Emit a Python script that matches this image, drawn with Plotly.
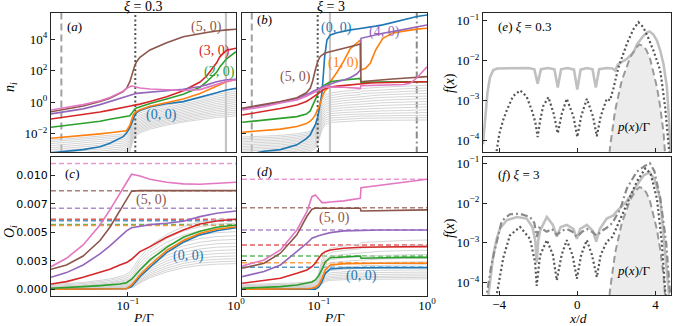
import plotly.graph_objects as go

W, H = 675, 326
SERIF = "Liberation Serif"
SANS = "DejaVu Sans"

C_BLUE, C_ORANGE, C_GREEN, C_RED = "#1f77b4", "#ff7f0e", "#2ca02c", "#d62728"
C_PURPLE, C_BROWN, C_PINK = "#9467bd", "#8c564b", "#e377c2"
C_GREY = "#cfcfcf"

# ===================== DATA =====================
# ---- panel (a): xi = 0.3, log10(n_i) versus P/Gamma
a_P = [0.0194, 0.0385, 0.0551, 0.0681, 0.0903, 0.097, 0.1042, 0.1081, 0.1119, 0.1161, 0.1202,
       0.1291, 0.16, 0.228, 0.325, 0.4645, 0.535, 0.662, 0.711, 0.818, 1.0]
a_brown = [-0.6, -0.24, 0.05, 0.25, 0.67, 0.88, 1.3, 1.7, 2.04, 2.35, 2.57, 2.85, 3.31, 3.77, 4.15, 4.36, 4.42, 4.51, 4.54, 4.58, 4.62]
a_pink = [-0.49, -0.15, 0.1, 0.3, 0.7, 0.88, 0.98, 1.03, 1.01, 0.97, 0.94, 0.9, 0.84, 0.78, 0.74, 0.8, 0.92, 1.1, 1.2, 1.32, 1.42]
a_purple = [-0.74, -0.42, -0.15, 0.05, 0.35, 0.42, 0.47, 0.49, 0.52, 0.54, 0.56, 0.58, 0.65, 0.73, 0.82, 1.0, 1.1, 1.3, 1.35, 1.42, 1.45]
a_red = [-1.06, -0.8, -0.62, -0.5, -0.3, -0.26, -0.23, -0.22, -0.2, -0.18, -0.16, -0.12, 0.05, 0.35, 0.73, 1.28, 1.66, 2.5, 2.89, 3.3, 3.42]
a_green = [-1.58, -1.35, -1.2, -1.08, -0.92, -0.88, -0.85, -0.72, -0.55, -0.42, -0.36, -0.28, -0.08, 0.2, 0.5, 0.95, 1.3, 1.9, 2.25, 2.75, 3.2]
a_orange = [-2.28, -2.12, -2.0, -1.93, -1.86, -1.8, -1.45, -1.12, -0.8, -0.65, -0.58, -0.48, -0.25, 0.0, 0.21, 0.55, 0.75, 1.0, 1.1, 1.3, 1.45]
a_blue = [-3.2, -3.0, -2.82, -2.6, -2.18, -1.95, -1.6, -1.33, -1.0, -0.8, -0.66, -0.52, -0.3, -0.1, 0.04, 0.3, 0.42, 0.6, 0.66, 0.78, 0.88]

a_grey_P = [0.0194, 0.0385, 0.0681, 0.0903, 0.097, 0.1042, 0.1119, 0.1202, 0.1291, 0.16, 0.228, 0.325, 0.4645, 0.662, 1.0]
a_grey = [
    [-2.40, -2.25, -2.12, -2.02, -1.90, -1.55, -1.05, -0.80, -0.68, -0.45, -0.20, 0.00, 0.25, 0.50, 0.70],
    [-2.50, -2.35, -2.22, -2.12, -2.00, -1.70, -1.20, -0.92, -0.80, -0.58, -0.32, -0.12, 0.12, 0.38, 0.58],
    [-2.62, -2.46, -2.33, -2.23, -2.12, -1.85, -1.32, -1.03, -0.90, -0.68, -0.42, -0.22, 0.02, 0.26, 0.46],
    [-2.75, -2.58, -2.45, -2.35, -2.24, -1.98, -1.45, -1.14, -1.00, -0.78, -0.52, -0.32, -0.08, 0.15, 0.34],
    [-2.88, -2.70, -2.57, -2.47, -2.36, -2.10, -1.57, -1.25, -1.10, -0.88, -0.62, -0.42, -0.19, 0.04, 0.22],
    [-3.00, -2.82, -2.69, -2.59, -2.48, -2.22, -1.68, -1.35, -1.20, -0.98, -0.72, -0.52, -0.30, -0.08, 0.10],
    [-3.12, -2.94, -2.81, -2.71, -2.60, -2.34, -1.78, -1.45, -1.30, -1.07, -0.82, -0.62, -0.40, -0.19, -0.02],
    [-3.25, -3.06, -2.93, -2.83, -2.72, -2.45, -1.88, -1.55, -1.40, -1.16, -0.91, -0.71, -0.50, -0.30, -0.14],
    [-3.38, -3.18, -3.05, -2.95, -2.84, -2.56, -1.97, -1.64, -1.49, -1.25, -1.00, -0.80, -0.60, -0.41, -0.26],
    [-3.50, -3.30, -3.17, -3.07, -2.96, -2.67, -2.06, -1.73, -1.58, -1.34, -1.09, -0.89, -0.70, -0.52, -0.38],
    [-3.62, -3.42, -3.29, -3.19, -3.08, -2.78, -2.15, -1.82, -1.67, -1.43, -1.18, -0.98, -0.80, -0.63, -0.50],
    [-3.75, -3.55, -3.41, -3.31, -3.20, -2.89, -2.24, -1.91, -1.76, -1.52, -1.27, -1.07, -0.90, -0.74, -0.62],
    [-3.88, -3.68, -3.53, -3.43, -3.32, -3.00, -2.33, -2.00, -1.85, -1.61, -1.36, -1.16, -1.00, -0.85, -0.74],
    [-4.00, -3.80, -3.65, -3.55, -3.44, -3.11, -2.42, -2.09, -1.94, -1.70, -1.45, -1.25, -1.10, -0.96, -0.86],
]

# ---- panel (b): xi = 3, log10(n_i) versus P/Gamma
b_P = [0.0195, 0.031, 0.044, 0.0625, 0.0765, 0.083, 0.0875, 0.0925, 0.0975, 0.1028, 0.1067, 0.110, 0.113,
       0.1186, 0.1274, 0.1469, 0.1694, 0.195, 0.2249, 0.2415, 0.245, 0.27, 0.2985, 0.335, 0.39, 0.48,
       0.608, 0.70, 0.807, 1.0]
b_blue = [-3.4, -3.1, -3.0, -2.7, -2.3, -2.07, -1.75, -1.44, -0.95, -0.07, 0.6, 1.8, 2.9, 3.94, 4.26, 4.4, 4.51, 4.58,
          4.64, 4.68, 4.69, 4.72, 4.76, 4.82, 4.9, 5.05, 5.25, 5.35, 5.43, 5.52]
b_orange = [-1.9, -1.8, -1.7, -1.54, -1.35, -1.2, -1.05, -0.8, -0.45, -0.1, 0.3, 0.55, 0.7, 0.85, 1.3, 1.9, 2.6, 3.4,
            3.8, 3.94, 2.04, 2.15, 2.46, 3.31, 4.05, 4.37, 4.5, 4.57, 4.63, 4.68]
b_brown = [-0.38, -0.15, 0.05, 0.29, 0.6, 0.88, 1.35, 2.04, 2.6, 2.9, 3.0, 3.05, 3.1, 3.15, 3.2, 3.3, 3.4, 3.5, 3.62,
           3.7, 1.3, 1.33, 1.36, 1.39, 1.42, 1.47, 1.52, 1.56, 1.59, 1.62]
b_purple = [-0.42, -0.2, 0.0, 0.24, 0.45, 0.58, 0.68, 0.76, 0.84, 0.92, 0.97, 1.0, 1.03, 1.07, 1.15, 1.3, 1.41, 1.55,
            1.8, 2.04, 4.05, 4.12, 4.2, 4.28, 4.37, 4.47, 4.6, 4.7, 4.8, 4.89]
b_pink = [-0.49, -0.28, -0.05, 0.14, 0.38, 0.5, 0.6, 0.68, 0.75, 0.82, 0.88, 0.92, 0.95, 0.96, 0.97, 0.96, 0.95, 0.92,
          0.9, 0.88, 1.05, 1.06, 1.07, 1.08, 1.09, 1.1, 1.12, 1.2, 1.55, 2.25]
b_red = [-0.81, -0.6, -0.4, -0.17, 0.05, 0.2, 0.3, 0.4, 0.5, 0.62, 0.7, 0.78, 0.84, 0.9, 0.96, 1.02, 1.06, 1.1, 1.15,
         1.2, 1.2, 1.21, 1.22, 1.23, 1.24, 1.26, 1.27, 1.28, 1.29, 1.3]
b_green = [-1.27, -1.12, -1.02, -0.91, -0.75, -0.55, -0.2, 0.2, 0.55, 0.85, 0.99, 1.05, 1.1, 1.18, 1.3, 1.36, 1.41,
           1.45, 1.49, 1.51, 1.26, 1.27, 1.27, 1.28, 1.28, 1.29, 1.29, 1.3, 1.3, 1.3]

b_grey_P = [0.0195, 0.044, 0.0625, 0.083, 0.0925, 0.0993, 0.1067, 0.1146, 0.1274, 0.1694, 0.2415, 0.245, 0.37, 0.608, 1.0]
b_grey = [
    [-2.20, -2.10, -2.00, -1.85, -1.40, -0.50, 0.20, 0.45, 0.58, 0.70, 0.80, 0.86, 0.95, 1.02, 1.08],
    [-2.30, -2.20, -2.10, -1.95, -1.52, -0.65, 0.05, 0.30, 0.42, 0.55, 0.64, 0.70, 0.78, 0.85, 0.90],
    [-2.40, -2.30, -2.20, -2.05, -1.63, -0.80, -0.10, 0.15, 0.27, 0.40, 0.48, 0.54, 0.62, 0.68, 0.73],
    [-2.50, -2.40, -2.30, -2.15, -1.75, -0.95, -0.25, 0.00, 0.12, 0.25, 0.33, 0.38, 0.46, 0.52, 0.56],
    [-2.60, -2.50, -2.40, -2.25, -1.87, -1.10, -0.40, -0.14, -0.02, 0.10, 0.18, 0.22, 0.30, 0.35, 0.39],
    [-2.70, -2.60, -2.50, -2.35, -1.98, -1.25, -0.55, -0.28, -0.16, -0.05, 0.03, 0.06, 0.13, 0.18, 0.22],
    [-2.80, -2.70, -2.60, -2.45, -2.10, -1.40, -0.70, -0.42, -0.30, -0.20, -0.12, -0.10, -0.04, 0.01, 0.05],
    [-2.90, -2.80, -2.70, -2.55, -2.21, -1.55, -0.85, -0.56, -0.44, -0.35, -0.28, -0.26, -0.21, -0.16, -0.12],
    [-3.00, -2.90, -2.80, -2.65, -2.33, -1.70, -1.00, -0.70, -0.58, -0.50, -0.43, -0.42, -0.38, -0.34, -0.30],
    [-3.10, -3.00, -2.90, -2.75, -2.45, -1.85, -1.15, -0.84, -0.72, -0.65, -0.59, -0.58, -0.55, -0.52, -0.48],
    [-3.20, -3.10, -3.00, -2.85, -2.57, -2.00, -1.30, -0.98, -0.86, -0.79, -0.74, -0.73, -0.71, -0.68, -0.65],
    [-3.30, -3.20, -3.10, -2.95, -2.68, -2.15, -1.45, -1.12, -1.00, -0.93, -0.89, -0.88, -0.86, -0.84, -0.82],
    [-3.40, -3.30, -3.20, -3.05, -2.80, -2.30, -1.60, -1.26, -1.14, -1.07, -1.03, -1.02, -1.00, -0.99, -0.97],
    [-3.50, -3.40, -3.30, -3.15, -2.92, -2.45, -1.75, -1.40, -1.28, -1.21, -1.17, -1.16, -1.15, -1.14, -1.12],
]

# vertical markers (P/Gamma values used in panels e, f)
a_vline_dashed, a_vline_dotted, a_vline_solid = 0.0242, 0.117, 0.807
b_vline_dashed, b_vline_dotted, b_vline_solid, b_vline_dashdot = 0.0239, 0.0974, 0.1265, 0.804

# ---- panel (c): xi = 0.3, O_i versus P/Gamma
c_P = [0.0194, 0.027, 0.0385, 0.0551, 0.0681, 0.0841, 0.097, 0.1081, 0.1291, 0.16, 0.228, 0.325, 0.4645, 0.662, 1.0]
c_pink = [0.00198, 0.00272, 0.00389, 0.00564, 0.00696, 0.00842, 0.00944, 0.01009, 0.00994, 0.00965, 0.00939, 0.00924, 0.00921, 0.0093, 0.00939]
c_brown = [0.00175, 0.00213, 0.00292, 0.00427, 0.00544, 0.00687, 0.00789, 0.0086, 0.00865, 0.00865, 0.00865, 0.00865, 0.00865, 0.00865, 0.00865]
c_purple = [0.00105, 0.00146, 0.00213, 0.0031, 0.0038, 0.00462, 0.00512, 0.0054, 0.00555, 0.00567, 0.00579, 0.00596, 0.00637, 0.00667, 0.00687]
c_red = [0.00046, 0.00067, 0.00105, 0.00146, 0.00175, 0.00213, 0.00234, 0.00263, 0.0033, 0.00374, 0.00456, 0.0052, 0.00573, 0.00599, 0.00614]
c_green = [0.00009, 0.00014, 0.00023, 0.00032, 0.00038, 0.00046, 0.00058, 0.00088, 0.00169, 0.00257, 0.00368, 0.00456, 0.00509, 0.00544, 0.00564]
c_orange = [0.0, 0.0, 0.00001, 0.00001, 0.00002, 0.00003, 0.00005, 0.00038, 0.00125, 0.00213, 0.00339, 0.00427, 0.00491, 0.00526, 0.00549]
c_blue = [0.0, 0.0, 0.0, 0.00001, 0.00001, 0.00002, 0.00004, 0.00023, 0.00111, 0.00193, 0.00321, 0.00412, 0.00477, 0.00514, 0.0054]
c_limits = {"pink": 0.01102, "brown": 0.00865, "purple": 0.0071, "red": 0.00614,
            "blue": 0.0060, "green": 0.00567, "orange": 0.0056}

c_grey_P = [0.0194, 0.0385, 0.0681, 0.0903, 0.1042, 0.1119, 0.1291, 0.16, 0.228, 0.325, 0.4645, 0.662, 1.0]
c_grey = [
    [0.00040, 0.00060, 0.00090, 0.00120, 0.00150, 0.00190, 0.00280, 0.00380, 0.00480, 0.00550, 0.00590, 0.00610, 0.00620],
    [0.00032, 0.00050, 0.00078, 0.00105, 0.00130, 0.00165, 0.00255, 0.00350, 0.00445, 0.00510, 0.00550, 0.00570, 0.00580],
    [0.00025, 0.00040, 0.00065, 0.00090, 0.00112, 0.00142, 0.00230, 0.00322, 0.00412, 0.00475, 0.00512, 0.00532, 0.00542],
    [0.00020, 0.00032, 0.00054, 0.00076, 0.00095, 0.00122, 0.00205, 0.00295, 0.00382, 0.00442, 0.00478, 0.00496, 0.00505],
    [0.00015, 0.00025, 0.00045, 0.00064, 0.00080, 0.00105, 0.00182, 0.00268, 0.00352, 0.00410, 0.00445, 0.00462, 0.00470],
    [0.00011, 0.00019, 0.00036, 0.00053, 0.00067, 0.00090, 0.00162, 0.00243, 0.00324, 0.00380, 0.00413, 0.00430, 0.00437],
    [0.00008, 0.00014, 0.00029, 0.00044, 0.00056, 0.00077, 0.00144, 0.00220, 0.00297, 0.00351, 0.00383, 0.00399, 0.00405],
    [0.00006, 0.00010, 0.00023, 0.00036, 0.00046, 0.00065, 0.00127, 0.00198, 0.00272, 0.00323, 0.00354, 0.00369, 0.00375],
    [0.00004, 0.00007, 0.00018, 0.00029, 0.00038, 0.00055, 0.00112, 0.00178, 0.00248, 0.00297, 0.00326, 0.00340, 0.00346],
    [0.00003, 0.00005, 0.00014, 0.00023, 0.00031, 0.00046, 0.00098, 0.00160, 0.00226, 0.00272, 0.00300, 0.00313, 0.00318],
    [0.00002, 0.00004, 0.00011, 0.00018, 0.00025, 0.00038, 0.00086, 0.00143, 0.00205, 0.00249, 0.00275, 0.00287, 0.00292],
    [0.00001, 0.00003, 0.00008, 0.00014, 0.00020, 0.00031, 0.00075, 0.00128, 0.00186, 0.00227, 0.00252, 0.00263, 0.00268],
    [0.00001, 0.00002, 0.00006, 0.00011, 0.00016, 0.00025, 0.00065, 0.00114, 0.00168, 0.00207, 0.00230, 0.00241, 0.00246],
    [0.00000, 0.00001, 0.00004, 0.00008, 0.00012, 0.00020, 0.00056, 0.00101, 0.00152, 0.00189, 0.00210, 0.00220, 0.00225],
]

# ---- panel (d): xi = 3, O_i versus P/Gamma
d_P = [0.0195, 0.031, 0.044, 0.0625, 0.0774, 0.0861, 0.0925, 0.0993, 0.1067, 0.1146, 0.1274, 0.1694, 0.2415, 0.245, 0.37, 0.608, 1.0]
d_pink = [0.00204, 0.00257, 0.00345, 0.0052, 0.00681, 0.00812, 0.00827, 0.00789, 0.0076, 0.0076, 0.00766, 0.00775, 0.00798, 0.00891, 0.00915, 0.00939, 0.00965]
d_brown = [0.00184, 0.00228, 0.00316, 0.00477, 0.0064, 0.00702, 0.0071, 0.0071, 0.0071, 0.0071, 0.0071, 0.0071, 0.0071, 0.00687, 0.0069, 0.00693, 0.00696]
d_purple = [0.00111, 0.00155, 0.00213, 0.0033, 0.00404, 0.00448, 0.00462, 0.0047, 0.00479, 0.00488, 0.00497, 0.00512, 0.00517, 0.00517, 0.0052, 0.0052, 0.0052]
d_red = [0.00053, 0.00076, 0.00096, 0.0014, 0.00169, 0.00198, 0.00228, 0.00272, 0.0031, 0.0033, 0.00345, 0.0036, 0.00368, 0.00368, 0.00371, 0.00374, 0.00374]
d_green = [0.00009, 0.00018, 0.00023, 0.00038, 0.00053, 0.00064, 0.00082, 0.00117, 0.00175, 0.00242, 0.00277, 0.00286, 0.00292, 0.00272, 0.00277, 0.0028, 0.0028]
d_orange = [0.0, 0.0, 0.00001, 0.00001, 0.00005, 0.00009, 0.00018, 0.00038, 0.00096, 0.00169, 0.00213, 0.00225, 0.00228, 0.00228, 0.00228, 0.00228, 0.00228]
d_blue = [0.0, 0.0, 0.0, 0.0, 0.00001, 0.00001, 0.00001, 0.00018, 0.00067, 0.0014, 0.00178, 0.00187, 0.0019, 0.0019, 0.0019, 0.0019, 0.0019]
d_limits = {"pink": 0.00965, "brown": 0.00716, "purple": 0.0052, "red": 0.00389,
            "green": 0.00292, "orange": 0.00233, "blue": 0.00193}

d_grey_P = [0.0195, 0.044, 0.0625, 0.083, 0.0925, 0.0993, 0.1067, 0.1146, 0.1274, 0.1694, 0.2415, 0.245, 0.37, 0.608, 1.0]
d_grey = [
    [0.00040, 0.00048, 0.00056, 0.00066, 0.00080, 0.00140, 0.00260, 0.00330, 0.00360, 0.00380, 0.00395, 0.00410, 0.00420, 0.00428, 0.00432],
    [0.00033, 0.00040, 0.00047, 0.00056, 0.00068, 0.00122, 0.00232, 0.00296, 0.00323, 0.00341, 0.00354, 0.00362, 0.00372, 0.00379, 0.00383],
    [0.00027, 0.00033, 0.00039, 0.00047, 0.00058, 0.00106, 0.00206, 0.00265, 0.00290, 0.00306, 0.00318, 0.00325, 0.00333, 0.00339, 0.00343],
    [0.00022, 0.00027, 0.00032, 0.00039, 0.00049, 0.00092, 0.00183, 0.00237, 0.00260, 0.00275, 0.00285, 0.00290, 0.00297, 0.00302, 0.00305],
    [0.00018, 0.00022, 0.00026, 0.00032, 0.00041, 0.00080, 0.00162, 0.00211, 0.00232, 0.00246, 0.00255, 0.00259, 0.00265, 0.00269, 0.00272],
    [0.00014, 0.00017, 0.00021, 0.00026, 0.00034, 0.00069, 0.00143, 0.00188, 0.00207, 0.00220, 0.00228, 0.00231, 0.00236, 0.00240, 0.00242],
    [0.00011, 0.00013, 0.00016, 0.00021, 0.00028, 0.00059, 0.00126, 0.00167, 0.00184, 0.00196, 0.00203, 0.00206, 0.00210, 0.00213, 0.00215],
    [0.00008, 0.00010, 0.00013, 0.00017, 0.00023, 0.00050, 0.00111, 0.00148, 0.00164, 0.00175, 0.00181, 0.00183, 0.00187, 0.00190, 0.00192],
    [0.00006, 0.00008, 0.00010, 0.00013, 0.00018, 0.00042, 0.00097, 0.00131, 0.00145, 0.00155, 0.00161, 0.00163, 0.00166, 0.00168, 0.00170],
    [0.00004, 0.00006, 0.00007, 0.00010, 0.00014, 0.00035, 0.00085, 0.00116, 0.00129, 0.00138, 0.00143, 0.00145, 0.00147, 0.00149, 0.00151],
    [0.00003, 0.00004, 0.00005, 0.00008, 0.00011, 0.00029, 0.00074, 0.00102, 0.00114, 0.00122, 0.00127, 0.00128, 0.00130, 0.00132, 0.00134],
    [0.00002, 0.00003, 0.00004, 0.00006, 0.00008, 0.00024, 0.00064, 0.00090, 0.00101, 0.00108, 0.00112, 0.00113, 0.00115, 0.00117, 0.00118],
    [0.00001, 0.00002, 0.00003, 0.00004, 0.00006, 0.00019, 0.00055, 0.00079, 0.00089, 0.00095, 0.00099, 0.00100, 0.00102, 0.00103, 0.00104],
    [0.00000, 0.00001, 0.00002, 0.00003, 0.00004, 0.00015, 0.00047, 0.00069, 0.00078, 0.00084, 0.00087, 0.00088, 0.00089, 0.00090, 0.00091],
]
P_span = [0.0194, 1.0]

# ---- panels (e), (f): log10 f(x) versus x/d
p_x = [1.6, 1.68, 1.94, 2.28, 2.71, 3.0, 3.18, 3.38, 3.55, 3.73, 4.08, 4.25, 4.42, 4.52]
p_log = [-4.6, -4.17, -3.25, -2.5, -1.92, -1.68, -1.6, -1.63, -1.75, -1.96, -2.67, -3.17, -3.83, -4.5]

e_solid_x = [-4.83, -4.7, -4.6, -4.47, -4.3, -4.1, -3.5, -2.5, -2.2, -2.03, -1.86, -1.5, -1.17, -1.0, -0.83, -0.5,
             -0.17, 0.0, 0.17, 0.5, 0.78, 0.95, 1.12, 1.5, 1.8, 1.94, 2.08, 2.37, 2.54, 2.88, 3.05, 3.39, 3.56, 3.7,
             3.9, 4.08, 4.25, 4.42, 4.59, 4.7, 4.8]
e_solid_log = [-4.1, -3.3, -2.8, -2.42, -2.24, -2.2, -2.19, -2.19, -2.22, -2.58, -2.22, -2.19, -2.22, -2.68, -2.22,
               -2.19, -2.23, -2.73, -2.23, -2.19, -2.22, -2.68, -2.22, -2.19, -2.2, -2.25, -2.1, -2.02, -1.96, -1.8,
               -1.6, -1.38, -1.3, -1.27, -1.35, -1.5, -1.75, -2.1, -2.67, -3.5, -4.5]
e_dot_x = [-4.2, -4.0, -3.8, -3.61, -3.3, -2.93, -2.6, -2.33, -2.15, -2.03, -1.9, -1.75, -1.48, -1.2, -1.0, -0.8,
           -0.54, -0.2, 0.0, 0.2, 0.49, 0.8, 1.0, 1.2, 1.51, 1.68, 1.85, 2.11, 2.54, 2.88, 3.13, 3.39, 3.65, 3.9,
           4.25, 4.5, 4.67, 4.75]
e_dot_log = [-4.5, -3.85, -3.5, -3.25, -2.9, -2.75, -2.9, -3.25, -3.55, -3.92, -3.5, -3.15, -2.92, -3.35, -3.83,
             -3.35, -2.96, -3.4, -3.92, -3.4, -2.96, -3.4, -3.9, -3.4, -2.96, -3.0, -2.7, -2.17, -1.58, -1.21, -1.04,
             -1.17, -1.45, -1.75, -2.25, -3.17, -4.08, -4.5]

f_solid_x = [-4.6, -4.45, -4.3, -4.13, -3.96, -3.61, -3.1, -2.59, -2.3, -2.15, -2.08, -2.0, -1.91, -1.56, -1.25,
             -1.05, -0.85, -0.54, -0.2, -0.02, 0.15, 0.49, 0.8, 0.97, 1.15, 1.51, 1.85, 2.03, 2.54, 3.05, 3.4, 3.7,
             3.95, 4.25, 4.5, 4.67, 4.75]
f_solid_log = [-4.5, -3.9, -3.3, -2.9, -2.64, -2.43, -2.35, -2.39, -2.6, -2.95, -3.5, -2.95, -2.7, -2.35, -2.55,
               -2.84, -2.6, -2.55, -2.65, -2.9, -2.65, -2.55, -2.7, -2.97, -2.65, -2.39, -2.31, -2.2, -1.95, -1.55,
               -1.3, -1.23, -1.4, -1.89, -3.15, -4.2, -4.6]
f_dashdot_x = [-4.7, -4.56, -4.4, -4.21, -3.87, -3.45, -2.93, -2.42, -2.2, -2.08, -1.95, -1.8, -1.56, -1.3, -1.05,
               -0.8, -0.54, -0.25, -0.02, 0.25, 0.49, 0.75, 1.0, 1.25, 1.51, 1.8, 2.03, 2.2, 2.54, 3.05, 3.48, 3.72,
               3.95, 4.25, 4.55, 4.72, 4.8]
f_dashdot_log = [-4.5, -4.0, -3.55, -3.15, -2.45, -2.28, -2.27, -2.35, -2.5, -2.85, -2.62, -2.65, -2.72, -2.65,
                 -2.8, -2.7, -2.65, -2.72, -2.85, -2.72, -2.65, -2.72, -2.82, -2.7, -2.62, -2.5, -2.31, -2.15, -1.63,
                 -1.21, -1.06, -1.0, -1.2, -1.89, -2.98, -4.16, -4.6]
f_dot_x = [-4.2, -4.13, -3.79, -3.45, -2.93, -2.42, -2.16, -2.08, -1.91, -1.56, -1.25, -1.05, -0.8, -0.54, -0.25,
           -0.02, 0.2, 0.49, 0.75, 1.0, 1.2, 1.51, 1.8, 2.03, 2.54, 3.05, 3.48, 3.75, 4.08, 4.33, 4.5, 4.6]
f_dot_log = [-4.6, -4.31, -3.37, -2.81, -2.6, -2.9, -3.49, -4.08, -3.32, -2.93, -3.3, -3.94, -3.3, -2.93, -3.3,
             -3.9, -3.3, -2.93, -3.3, -3.86, -3.3, -2.97, -2.85, -2.6, -2.0, -1.46, -1.13, -1.25, -1.89, -2.98, -4.2,
             -4.6]

# ===================== FIGURE =====================
fig = go.Figure()


def pw(vals):
    return [10 ** v for v in vals]


def axn(n):
    return ("x" if n == 1 else "x%d" % n), ("y" if n == 1 else "y%d" % n)


def line(n, x, y, color, width=1.6, dash=None, opacity=1.0, fill=None, fillcolor=None):
    xa, ya = axn(n)
    fig.add_trace(go.Scatter(x=x, y=y, mode="lines", xaxis=xa, yaxis=ya,
                             line=dict(color=color, width=width, dash=dash), opacity=opacity,
                             fill=fill, fillcolor=fillcolor, hoverinfo="skip", showlegend=False))


VY = [1e-8, 1e8]
DASHED, DOTTED, DASHDOT = "7px,4px", "2px,2.5px", "7px,3px,2px,3px"

# (a)
line(1, [a_vline_dashed] * 2, VY, "#a0a0a0", 2, DASHED)
line(1, [a_vline_solid] * 2, VY, "#c4c4c4", 2.2)
for g in a_grey:
    line(1, a_grey_P, pw(g), C_GREY, 0.9)
line(1, [a_vline_dotted] * 2, VY, "#555555", 2, DOTTED)
for vals, col in [(a_blue, C_BLUE), (a_orange, C_ORANGE), (a_green, C_GREEN), (a_red, C_RED),
                  (a_purple, C_PURPLE), (a_brown, C_BROWN), (a_pink, C_PINK)]:
    line(1, a_P, pw(vals), col)

# (b)
line(2, [b_vline_dashed] * 2, VY, "#a0a0a0", 2, DASHED)
line(2, [b_vline_solid] * 2, VY, "#c4c4c4", 2.2)
line(2, [b_vline_dashdot] * 2, VY, "#8a8a8a", 2, DASHDOT)
for g in b_grey:
    line(2, b_grey_P, pw(g), C_GREY, 0.9)
line(2, [b_vline_dotted] * 2, VY, "#555555", 2, DOTTED)
for vals, col in [(b_blue, C_BLUE), (b_orange, C_ORANGE), (b_green, C_GREEN), (b_red, C_RED),
                  (b_purple, C_PURPLE), (b_brown, C_BROWN), (b_pink, C_PINK)]:
    line(2, b_P, pw(vals), col)

# (c)
cols = {"pink": C_PINK, "brown": C_BROWN, "purple": C_PURPLE, "red": C_RED,
        "blue": C_BLUE, "green": C_GREEN, "orange": C_ORANGE}
for k, v in c_limits.items():
    line(3, P_span, [v, v], cols[k], 1.5, "5px,3px", 0.75)
for g in c_grey:
    line(3, c_grey_P, g, C_GREY, 0.9)
for vals, col in [(c_blue, C_BLUE), (c_orange, C_ORANGE), (c_green, C_GREEN), (c_red, C_RED),
                  (c_purple, C_PURPLE), (c_brown, C_BROWN), (c_pink, C_PINK)]:
    line(3, c_P, vals, col)

# (d)
for k, v in d_limits.items():
    line(4, P_span, [v, v], cols[k], 1.5, "5px,3px", 0.75)
for g in d_grey:
    line(4, d_grey_P, g, C_GREY, 0.9)
for vals, col in [(d_blue, C_BLUE), (d_orange, C_ORANGE), (d_green, C_GREEN), (d_red, C_RED),
                  (d_purple, C_PURPLE), (d_brown, C_BROWN), (d_pink, C_PINK)]:
    line(4, d_P, vals, col)

# (e)
line(5, p_x, pw(p_log), "rgba(0,0,0,0)", 0, None, 1.0, "toself", "#ececec")
line(5, e_solid_x, pw(e_solid_log), "#c0c0c0", 2.6)
line(5, p_x, pw(p_log), "#9a9a9a", 2, DASHED)
line(5, e_dot_x, pw(e_dot_log), "#555555", 2.2, DOTTED)

# (f)
line(6, p_x, pw(p_log), "rgba(0,0,0,0)", 0, None, 1.0, "toself", "#ececec")
line(6, f_solid_x, pw(f_solid_log), "#c0c0c0", 2.6)
line(6, p_x, pw(p_log), "#9a9a9a", 2, DASHED)
line(6, f_dashdot_x, pw(f_dashdot_log), "#8a8a8a", 2.2, DASHDOT)
line(6, f_dot_x, pw(f_dot_log), "#555555", 2.2, DOTTED)


# ----- axes -----
def xdom(l, r):
    return [l / W, r / W]


def ydom(t, b):
    return [1 - b / H, 1 - t / H]


base = dict(showline=True, mirror=True, linecolor="#262626", linewidth=1.3, ticks="inside", ticklen=4,
            tickwidth=1, tickcolor="#262626", showgrid=False, zeroline=False, automargin=False,
            tickfont=dict(family=SERIF, size=13, color="black"))

LOGN_VALS = [1e-2, 1, 1e2, 1e4]
LOGN_TXT = ["10<sup>\u22122</sup>", "10<sup>0</sup>", "10<sup>2</sup>", "10<sup>4</sup>"]
P_VALS = [0.1, 1]
P_TXT = ["10<sup>\u22121</sup>", "10<sup>0</sup>"]
O_VALS = [0.0, 0.0025, 0.005, 0.0075, 0.01]
O_TXT = ["0.000", "0.003", "0.005", "0.007", "0.010"]
F_VALS = [1e-1, 1e-2, 1e-3, 1e-4]
F_TXT = ["10<sup>\u22121</sup>", "10<sup>\u22122</sup>", "10<sup>\u22123</sup>", "10<sup>\u22124</sup>"]
X_VALS = [-4, 0, 4]
X_TXT = ["\u22124", "0", "4"]

PR = [-1.712, 0]
layout_axes = dict(
    xaxis=dict(base, domain=xdom(51, 236), type="log", range=PR, tickvals=P_VALS, showticklabels=False, anchor="y"),
    yaxis=dict(base, domain=ydom(13, 152), type="log", range=[-3.15, 5.65], tickvals=LOGN_VALS, ticktext=LOGN_TXT, anchor="x"),
    xaxis2=dict(base, domain=xdom(242, 427), type="log", range=PR, tickvals=P_VALS, showticklabels=False, anchor="y2"),
    yaxis2=dict(base, domain=ydom(13, 152), type="log", range=[-3.15, 5.65], tickvals=LOGN_VALS, showticklabels=False, anchor="x2"),
    xaxis3=dict(base, domain=xdom(51, 236), type="log", range=PR, tickvals=P_VALS, ticktext=P_TXT, anchor="y3",
                ticklabelstandoff=-3),
    yaxis3=dict(base, domain=ydom(157, 296), range=[-0.00059, 0.0116], tickvals=O_VALS, ticktext=O_TXT, anchor="x3",
                tickfont=dict(family=SANS, size=11, color="black")),
    xaxis4=dict(base, domain=xdom(242, 427), type="log", range=PR, tickvals=P_VALS, ticktext=P_TXT, anchor="y4",
                ticklabelstandoff=-3),
    yaxis4=dict(base, domain=ydom(157, 296), range=[-0.00059, 0.0116], tickvals=O_VALS, showticklabels=False, anchor="x4"),
    xaxis5=dict(base, domain=xdom(483, 671), range=[-4.83, 4.8], tickvals=X_VALS, showticklabels=False, anchor="y5"),
    yaxis5=dict(base, domain=ydom(13.3, 151.7), type="log", range=[-4.29, -0.815], tickvals=F_VALS, ticktext=F_TXT, anchor="x5"),
    xaxis6=dict(base, domain=xdom(483, 671), range=[-4.83, 4.8], tickvals=X_VALS, ticktext=X_TXT, anchor="y6",
                ticklabelstandoff=-3),
    yaxis6=dict(base, domain=ydom(157.3, 295), type="log", range=[-4.31, -0.85], tickvals=F_VALS, ticktext=F_TXT, anchor="x6"),
)

fig.update_layout(template="none", width=W, height=H, margin=dict(l=0, r=0, t=0, b=0, pad=0),
                  paper_bgcolor="white", plot_bgcolor="white", showlegend=False, **layout_axes)


# ----- text -----
def text(px, py, s, size=14, color="black", family=SERIF, angle=0, xanchor="center"):
    fig.add_annotation(x=px / W, y=1 - py / H, xref="paper", yref="paper", text=s, showarrow=False,
                       font=dict(family=family, size=size, color=color), textangle=angle,
                       xanchor=xanchor, yanchor="middle")


text(143, 6, "<i>\u03be</i> = 0.3", 14)
text(331, 6, "<i>\u03be</i> = 3", 14)
text(10, 87, "<i>n<sub>i</sub></i>", 14, angle=-90)
text(10, 232, "<i>O<sub>i</sub></i>", 14, angle=-90)
text(450, 83, "<i>f</i>(<i>x</i>)", 14, angle=-90)
text(450, 228, "<i>f</i>(<i>x</i>)", 14, angle=-90)
text(143, 317, "<i>P</i>/\u0393", 13.5)
text(334, 317, "<i>P</i>/\u0393", 13.5)
text(578, 318, "<i>x</i>/<i>d</i>", 13.5)

text(74, 27, "(<i>a</i>)", 13)
text(264, 20, "(<i>b</i>)", 13)
text(72, 173, "(<i>c</i>)", 13)
text(264, 172, "(<i>d</i>)", 13)
text(496, 27, "(<i>e</i>) <i>\u03be</i> = 0.3", 13, xanchor="left")
text(496, 174, "(<i>f</i>) <i>\u03be</i> = 3", 13, xanchor="left")
text(634, 127, "<i>p</i>(<i>x</i>)/\u0393", 13)
text(634, 270, "<i>p</i>(<i>x</i>)/\u0393", 13)

text(206, 27, "(5, 0)", 14, C_BROWN)
text(214, 51, "(3, 0)", 14, C_RED)
text(219, 72, "(2, 0)", 14, C_GREEN)
text(161, 115, "(0, 0)", 14, C_BLUE)
text(336, 28, "(0, 0)", 14, C_BLUE)
text(384, 32, "(4, 0)", 14, C_PURPLE)
text(343, 63, "(1, 0)", 14, C_ORANGE)
text(295, 77, "(5, 0)", 14, C_BROWN)
text(151, 200, "(5, 0)", 14, C_BROWN)
text(188, 256, "(0, 0)", 14, C_BLUE)
text(334, 218, "(5, 0)", 14, C_BROWN)
text(361, 276, "(0, 0)", 14, C_BLUE)

fig.write_html("out.html", config={"displayModeBar": False},
               post_script="document.body.style.margin='0px';document.body.style.padding='0px';")
